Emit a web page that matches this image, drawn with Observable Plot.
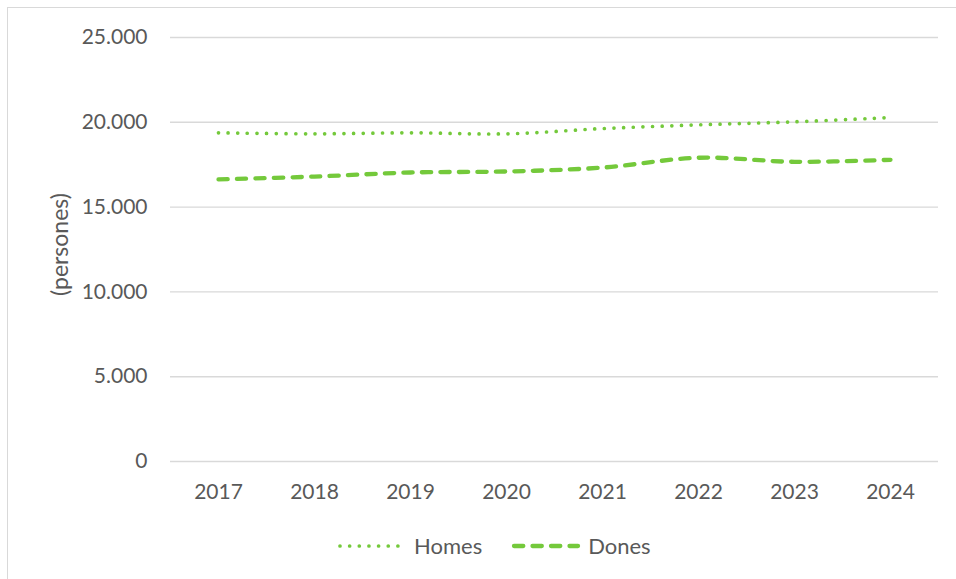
<!DOCTYPE html>
<html>
<head>
<meta charset="utf-8">
<script src="https://cdn.jsdelivr.net/npm/d3@7"></script>
<script src="https://cdn.jsdelivr.net/npm/@observablehq/plot@0.6"></script>
<style>
  html, body { margin: 0; padding: 0; background: #fff; }
  #wrap { position: relative; width: 956px; height: 579px; overflow: hidden; font-family: Lato, "Open Sans", sans-serif; }
  #frame { position: absolute; left: 7px; top: 7px; width: 960px; height: 590px; border: 1px solid #d9d9d9; box-sizing: border-box; }
  #chart { position: absolute; left: 0; top: 0; }
  #legend { position: absolute; left: 337px; top: 532px; display: flex; align-items: center; font-size: 22px; color: #595959; }
  #legend span { line-height: 28px; }
</style>
</head>
<body>
<div id="wrap">
  <div id="frame"></div>
  <div id="chart"></div>
  <div id="legend"></div>
</div>
<script>
// Persones per any i sexe
const years = ["2017", "2018", "2019", "2020", "2021", "2022", "2023", "2024"];
const homes = [19380, 19320, 19380, 19320, 19630, 19850, 20030, 20280];
const dones = [16630, 16800, 17040, 17100, 17330, 17910, 17670, 17790];
const yTicks = [0, 5000, 10000, 15000, 20000, 25000];
const seriesNames = ["Homes", "Dones"];

const green = "#74c93b";
const textColor = "#595959";
const styles = {
  Homes: {strokeWidth: 3.7, strokeDasharray: "0 9.65", strokeLinecap: "round"},
  Dones: {strokeWidth: 4.3, strokeDasharray: "9.3 9.2", strokeLinecap: "round"}
};

const rows = years.flatMap((year, i) => [
  {year, sex: "Homes", value: homes[i]},
  {year, sex: "Dones", value: dones[i]}
]);

const fmt = d => d3.format(",")(d).replace(/,/g, ".");

const chart = Plot.plot({
  width: 956,
  height: 520,
  marginLeft: 170,
  marginRight: 18,
  marginTop: 37,
  marginBottom: 59,
  style: {fontFamily: "Lato, 'Open Sans', sans-serif", fontSize: "21px", color: textColor, background: "transparent"},
  x: {type: "point", domain: years, padding: 0.5, align: 0.5},
  y: {domain: [0, 25000]},
  marks: [
    Plot.gridY(yTicks, {stroke: "#d9d9d9", strokeOpacity: 1, strokeWidth: 1.4}),
    Plot.axisY(yTicks, {tickSize: 0, tickPadding: 23, tickFormat: fmt, label: null, fill: textColor}),
    Plot.axisX({tickSize: 0, tickPadding: 23, label: null, fill: textColor}),
    Plot.text(["(persones)"], {frameAnchor: "left", textAnchor: "middle", dx: -110, dy: -5, rotate: -90, fill: textColor, fontSize: 23}),
    ...seriesNames.map(name => Plot.line(rows.filter(d => d.sex === name), {
      x: "year", y: "value", stroke: green, curve: "catmull-rom", ...styles[name]
    }))
  ]
});
document.getElementById("chart").append(chart);

// Legend below the plot
const legend = d3.select("#legend");
const swatch = (name, w, gapAfter) => {
  const s = legend.append("svg").attr("width", w + 6).attr("height", 12).style("margin-right", gapAfter + "px");
  s.append("line").attr("x1", 3).attr("x2", w + 3).attr("y1", 6).attr("y2", 6)
    .attr("stroke", green).attr("stroke-width", styles[name].strokeWidth)
    .attr("stroke-linecap", "round").attr("stroke-dasharray", styles[name].strokeDasharray);
};
swatch("Homes", 58, 13);
legend.append("span").text("Homes").style("margin-right", "29px");
swatch("Dones", 64, 7);
legend.append("span").text("Dones");
</script>
</body>
</html>
